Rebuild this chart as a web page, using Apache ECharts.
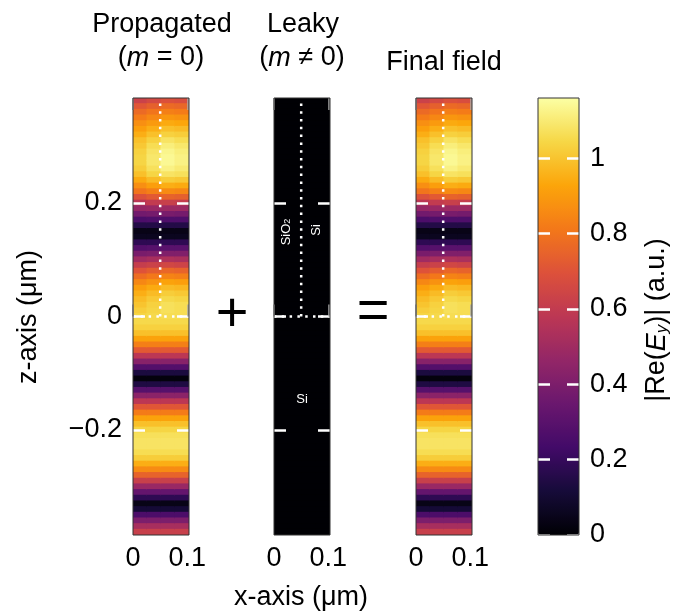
<!DOCTYPE html>
<html><head><meta charset="utf-8">
<script src="https://cdn.jsdelivr.net/npm/echarts@6/dist/echarts.min.js"></script>
<style>html,body{margin:0;padding:0;background:#fff}#c{width:678px;height:616px}</style>
</head><body><div id="c"></div>
<script>
// ---- data ----
// z positions of heatmap rows (µm), top to bottom
const zRows = [0.38,0.37,0.36,0.35,0.34,0.33,0.32,0.31,0.30,0.29,0.28,0.27,0.26,0.25,0.24,0.23,0.22,0.21,0.20,0.19,
  0.18,0.17,0.16,0.15,0.14,0.13,0.12,0.11,0.10,0.09,0.08,0.07,0.06,0.05,0.04,0.03,0.02,0.01,0.00,
  -0.01,-0.02,-0.03,-0.04,-0.05,-0.06,-0.07,-0.08,-0.09,-0.10,-0.11,-0.12,-0.13,-0.14,-0.15,-0.16,-0.17,-0.18,-0.19,-0.20,
  -0.21,-0.22,-0.23,-0.24,-0.25,-0.26,-0.27,-0.28,-0.29,-0.30,-0.31,-0.32,-0.33,-0.34,-0.35,-0.36,-0.37,-0.38];
// x columns of the heatmap (4 bins across 0..0.103 µm)
const xCols = ['x0','x1','x2','x3'];
// |Re(Ey)| of the propagated field, upper part (z = 0.38 .. 0.00), one list per x column
const upperCol0 = [0.63,0.71,0.77,0.82,0.87,0.91,0.95,0.99,1.01,1.03,1.04,1.04,1.02,0.99,0.94,0.87,0.80,0.69,0.58,0.47,
  0.37,0.26,0.15,0.04,0.06,0.18,0.28,0.39,0.50,0.61,0.70,0.78,0.85,0.91,0.95,0.98,1.00,1.02,1.04];
const upperCol1 = [0.66,0.74,0.80,0.85,0.90,0.95,0.99,1.03,1.06,1.08,1.09,1.09,1.07,1.04,0.98,0.91,0.83,0.72,0.60,0.48,
  0.38,0.27,0.15,0.04,0.06,0.18,0.29,0.40,0.52,0.63,0.73,0.81,0.88,0.94,0.98,1.01,1.03,1.04,1.05];
const upperCol2 = [0.69,0.77,0.83,0.89,0.94,0.99,1.03,1.08,1.11,1.13,1.14,1.14,1.12,1.08,1.02,0.95,0.86,0.75,0.62,0.49,
  0.39,0.27,0.15,0.04,0.06,0.18,0.30,0.41,0.54,0.65,0.76,0.84,0.92,0.98,1.02,1.05,1.07,1.07,1.06];
const upperCol3 = [0.68,0.76,0.82,0.88,0.93,0.98,1.02,1.06,1.09,1.11,1.12,1.12,1.10,1.07,1.01,0.94,0.85,0.74,0.61,0.49,
  0.38,0.27,0.15,0.04,0.06,0.18,0.30,0.41,0.53,0.64,0.75,0.83,0.91,0.97,1.01,1.04,1.06,1.06,1.06];
// lower part (z = -0.01 .. -0.38), same across x
const lowerProfile = [1.05,1.03,0.99,0.92,0.83,0.72,0.58,0.43,0.28,0.13,
  0.02,0.14,0.29,0.44,0.58,0.71,0.82,0.92,0.99,1.04,
  1.07,1.08,1.08,1.06,1.02,0.95,0.86,0.75,0.62,0.48,
  0.33,0.18,0.04,0.11,0.26,0.40,0.52,0.62];
// leaky (m != 0) contribution: black everywhere
const leakyProfile = [0,0,0,0,0,0,0,0,0,0,0,0,0,0,0,0,0,0,0,0,0,0,0,0,0,0,0,0,0,0,0,0,0,0,0,0,0,0,0,
  0,0,0,0,0,0,0,0,0,0,0,0,0,0,0,0,0,0,0,0,0,0,0,0,0,0,0,0,0,0,0,0,0,0,0,0,0,0];
const xTicks = [0, 0.1];
const zTicks = [-0.2, 0, 0.2];
const cbTicks = [0, 0.2, 0.4, 0.6, 0.8, 1];
const interfaceX = 0.05;   // SiO2 / Si vertical interface
const interfaceZ = 0;      // horizontal interface
const X_MAX = 0.103, Z_MIN = -0.385, Z_MAX = 0.385, CB_MAX = 1.16;

// ---- build ----
const propagatedCols = [upperCol0, upperCol1, upperCol2, upperCol3].map(u => u.concat(lowerProfile));
const leakyCols = xCols.map(() => leakyProfile);
const finalCols = propagatedCols.map((col, xi) => col.map((v, yi) => +(v + leakyCols[xi][yi]).toFixed(3)));
function cells(cols) { const d = []; cols.forEach((col, xi) => col.forEach((v, yi) => d.push([xi, yi, v]))); return d; }

const FONT = '"Liberation Sans", Arial, Helvetica, sans-serif';
const FS = 27;
const inferno = ['#000004','#160b39','#420a68','#6a176e','#932667','#bc3754','#dd513a','#f37819','#fca50a','#f6d746','#fcffa4'];
const panelLeft = [133, 274, 416];
const TOP = 98, H = 437, W = 56;
const CB_LEFT = 538, CB_W = 41;

const grid = [], xAxis = [], yAxis = [], series = [];
const tickWhite = {color:'#fff', width:2.5};
panelLeft.forEach((l, i) => {
  grid.push({left:l, top:TOP, width:W, height:H, show:true, z:10, borderColor:'#333', borderWidth:1, backgroundColor:'transparent'});
  xAxis.push({gridIndex:i, type:'category', data:xCols, show:false});
  xAxis.push({gridIndex:i, type:'value', min:0, max:X_MAX, position:'bottom', z:8,
    axisLine:{show:false}, splitLine:{show:false},
    axisTick:{show:true, inside:true, length:12, customValues:xTicks, lineStyle:{color:'#aaa', width:1.5}},
    axisLabel:{show:true, customValues:xTicks, formatter:v => String(v), fontSize:FS, fontFamily:FONT, color:'#000', margin:10}});
  xAxis.push({gridIndex:i, type:'value', min:0, max:X_MAX, position:'top', z:8,
    axisLine:{show:false}, splitLine:{show:false},
    axisTick:{show:true, inside:true, length:12, customValues:xTicks, lineStyle:{color:'#aaa', width:1.5}},
    axisLabel:{show:false, customValues:xTicks}});
  yAxis.push({gridIndex:i, type:'category', data:zRows.map(String), inverse:true, show:false});
  yAxis.push({gridIndex:i, type:'value', min:Z_MIN, max:Z_MAX, position:'left', z:8,
    axisLine:{show:false}, splitLine:{show:false},
    axisTick:{show:true, inside:true, length:12, customValues:zTicks, lineStyle:tickWhite},
    axisLabel:{show:i === 0, customValues:zTicks, formatter:v => v < 0 ? '\u2212' + Math.abs(v) : String(v),
      fontSize:FS, fontFamily:FONT, color:'#000', margin:11}});
  yAxis.push({gridIndex:i, type:'value', min:Z_MIN, max:Z_MAX, position:'right', z:8,
    axisLine:{show:false}, splitLine:{show:false},
    axisTick:{show:true, inside:true, length:12, customValues:zTicks, lineStyle:tickWhite},
    axisLabel:{show:false, customValues:zTicks}});
});
// colorbar frame + ticks
grid.push({left:CB_LEFT, top:TOP, width:CB_W, height:H, show:true, z:10, borderColor:'#333', borderWidth:1, backgroundColor:'transparent'});
xAxis.push({gridIndex:3, type:'value', min:0, max:1, show:false});
yAxis.push({gridIndex:3, type:'value', min:0, max:CB_MAX, position:'left', z:8,
  axisLine:{show:false}, splitLine:{show:false},
  axisTick:{show:true, inside:true, length:12, customValues:cbTicks, lineStyle:tickWhite},
  axisLabel:{show:false, customValues:cbTicks}});
yAxis.push({gridIndex:3, type:'value', min:0, max:CB_MAX, position:'right', z:8,
  axisLine:{show:false}, splitLine:{show:false},
  axisTick:{show:true, inside:true, length:12, customValues:cbTicks, lineStyle:tickWhite},
  axisLabel:{show:true, customValues:cbTicks, formatter:v => String(v), fontSize:FS, fontFamily:FONT, color:'#000', margin:11}});

// field cells drawn through the category scales; each cell overlaps its neighbours by 1px to avoid seams
function renderCell(params, api) {
  const p = api.coord([api.value(0), api.value(1)]);
  const s = api.size([1, 1]);
  const r = params.coordSys;
  const x0 = Math.max(r.x, p[0] - s[0] / 2 - 0.5), x1 = Math.min(r.x + r.width, p[0] + s[0] / 2 + 0.5);
  const y0 = Math.max(r.y, p[1] - s[1] / 2 - 0.5), y1 = Math.min(r.y + r.height, p[1] + s[1] / 2 + 0.5);
  return {type:'rect', shape:{x:x0, y:y0, width:x1 - x0, height:y1 - y0}, style:{fill:api.visual('color'), stroke:null}};
}
[propagatedCols, leakyCols, finalCols].forEach((cols, i) => {
  series.push({type:'custom', xAxisIndex:3*i, yAxisIndex:3*i, data:cells(cols), silent:true,
    renderItem:renderCell, encode:{x:0, y:1}, z:2});
});
panelLeft.forEach((l, i) => {
  const dots = {color:'#fff', width:2.5, type:[2.5, 5.3]};
  series.push({type:'line', xAxisIndex:3*i+1, yAxisIndex:3*i+1, data:[[interfaceX, interfaceZ],[interfaceX, Z_MAX]],
    symbol:'none', lineStyle:dots, z:6, silent:true});
  series.push({type:'line', xAxisIndex:3*i+1, yAxisIndex:3*i+1, data:[[0, interfaceZ],[X_MAX, interfaceZ]],
    symbol:'none', lineStyle:dots, z:6, silent:true});
});

function txt(x, y, text, size, opts) {
  opts = opts || {};
  const style = {text, fill:opts.fill || '#000', fontSize:size, fontFamily:FONT,
    align:'center', verticalAlign:'middle', textAlign:'center', textVerticalAlign:'middle'};
  if (opts.rich) style.rich = opts.rich;
  return {type:'text', x, y, rotation:opts.rotation || 0, silent:true, z:20, style};
}
const it = {fontSize:FS, fontFamily:FONT, fontStyle:'italic', fill:'#000'};
const graphic = [
  txt(162, 25, 'Propagated', FS),
  txt(161, 58, '({i|m} = 0)', FS, {rich:{i:it}}),
  txt(303, 25, 'Leaky', FS),
  txt(302, 58, '({i|m} \u2260 0)', FS, {rich:{i:it}}),
  txt(444, 63, 'Final field', FS),
  txt(232, 316, '+', 56),
  txt(373, 313, '=', 56),
  txt(29, 317, 'z-axis (\u03bcm)', FS, {rotation:Math.PI/2}),
  txt(301, 598, 'x-axis (\u03bcm)', FS),
  txt(657, 320, '|Re({i|E}{s|y})| (a.u.)', FS, {rotation:Math.PI/2,
    rich:{i:it, s:{fontSize:17, fontFamily:FONT, fontStyle:'italic', fill:'#000', verticalAlign:'bottom', lineHeight:10}}}),
  txt(286, 232, 'SiO{s|2}', 13, {fill:'#fff', rotation:Math.PI/2,
    rich:{s:{fontSize:9, fontFamily:FONT, fill:'#fff', verticalAlign:'bottom', lineHeight:6}}}),
  txt(316, 230, 'Si', 13, {fill:'#fff', rotation:Math.PI/2}),
  txt(302, 399, 'Si', 13, {fill:'#fff'})
];

const chart = echarts.init(document.getElementById('c'), null, {renderer:'canvas'});
chart.setOption({
  animation:false,
  backgroundColor:'#fff',
  textStyle:{fontFamily:FONT},
  grid, xAxis, yAxis, series, graphic,
  visualMap:{type:'continuous', min:0, max:CB_MAX, seriesIndex:[0,1,2], dimension:2, orient:'vertical',
    left:CB_LEFT, top:TOP, itemWidth:CB_W, itemHeight:H, padding:0, calculable:false, hoverLink:false,
    text:null, inRange:{color:inferno}}
});
</script></body></html>
